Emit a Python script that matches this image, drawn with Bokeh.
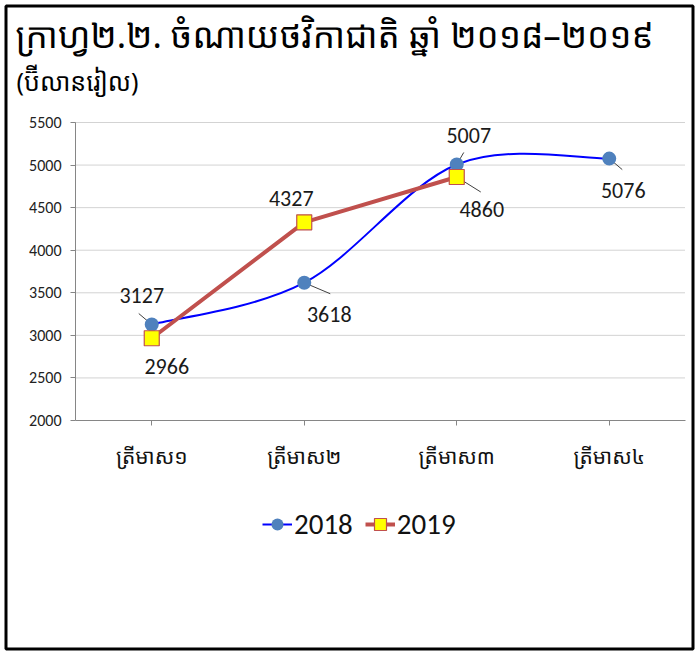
import numpy as np
from bokeh.plotting import figure
from bokeh.models import (Range1d, FixedTicker, Label, Legend, LegendItem,
                          ColumnDataSource, LabelSet, BoxAnnotation)
from bokeh.core.properties import value
from bokeh.embed import file_html
from bokeh.resources import INLINE

# ---------------- data ----------------
categories = ["ត្រីមាស១", "ត្រីមាស២", "ត្រីមាស៣", "ត្រីមាស៤"]
series_2018 = [3127, 3618, 5007, 5076]
series_2019 = [2966, 4327, 4860]
y_ticks = [2000, 2500, 3000, 3500, 4000, 4500, 5000, 5500]
title_text = "ក្រាហ្វ២.២. ចំណាយថវិកាជាតិ ឆ្នាំ ២០១៨–២០១៩"
subtitle_text = "(ប៊ីលានរៀល)"
legend_names = ["2018", "2019"]

# ---------------- style / layout ----------------
W, H = 696, 651
AX_L, AX_R, AX_T, AX_B = 75, 685, 122, 420     # plotting area in canvas px
KH_FONT = "'Noto Sans Khmer', 'Khmer OS', 'Khmer OS System', 'Noto Serif Khmer', 'DejaVu Sans'"
NUM_FONT = "Carlito, 'Open Sans'"

xs = np.arange(1, len(categories) + 1)
x_lo, x_hi = 0.5, len(categories) + 0.5
y_lo, y_hi = y_ticks[0], y_ticks[-1]
ux = (AX_R - AX_L) / (x_hi - x_lo)      # px per data unit
uy = (AX_B - AX_T) / (y_hi - y_lo)
xr = Range1d(x_lo - AX_L / ux, x_hi + (W - AX_R) / ux)
yr = Range1d(y_lo - (H - AX_B) / uy, y_hi + AX_T / uy)

def sy(y_from_top):   # canvas px from top -> screen units from bottom
    return H - y_from_top

p = figure(width=W, height=H, output_backend="svg", toolbar_location=None,
           x_range=xr, y_range=yr, min_border=0,
           min_border_left=0, min_border_right=0, min_border_top=0, min_border_bottom=0)
p.outline_line_color = None
p.background_fill_color = "white"
p.border_fill_color = "white"

# axes (library axes, drawn at fixed locations inside the canvas)
p.xaxis.fixed_location = y_lo
p.xaxis.bounds = (x_lo, x_hi)
p.xaxis.ticker = FixedTicker(ticks=list(xs))
p.xaxis.major_label_overrides = {int(i): c for i, c in zip(xs, categories)}
p.xaxis.major_label_text_font = KH_FONT
p.xaxis.major_label_text_font_size = "21px"
p.xaxis.major_label_text_color = "#111111"
p.xaxis.major_label_standoff = 16
p.xaxis.axis_line_color = "#868686"
p.xaxis.major_tick_line_color = "#868686"
p.xaxis.major_tick_out = 5
p.xaxis.major_tick_in = 0
p.xaxis.minor_tick_line_color = None

p.yaxis.fixed_location = x_lo
p.yaxis.bounds = (y_lo, y_hi)
p.yaxis.ticker = FixedTicker(ticks=y_ticks)
p.yaxis.major_label_text_font = NUM_FONT
p.yaxis.major_label_text_font_size = "16px"
p.yaxis.major_label_text_color = "#222222"
p.yaxis.axis_line_color = "#868686"
p.yaxis.major_tick_line_color = "#868686"
p.yaxis.major_tick_out = 5
p.yaxis.major_tick_in = 0
p.yaxis.minor_tick_line_color = None
p.yaxis.major_label_standoff = 9

# horizontal gridlines at the y ticks, limited to the plotting area
p.xgrid.grid_line_color = None
p.ygrid.grid_line_color = None
grid_y = y_ticks[1:]
p.segment(x0=[x_lo] * len(grid_y), y0=grid_y, x1=[x_hi] * len(grid_y), y1=grid_y,
          line_color="#a6a6a6", line_width=1, line_dash="1 1")

# ---------------- 2018 smooth curve (Catmull-Rom through data) ----------------
y18 = np.array(series_2018, dtype=float)
x18 = xs[:len(y18)].astype(float)
n = len(y18)
px_ = np.concatenate([[x18[0]], x18, [x18[-1]]])
py_ = np.concatenate([[y18[0]], y18, [y18[-1]]])
bx0, by0, bx1, by1, cx0, cy0, cx1, cy1 = [], [], [], [], [], [], [], []
for i in range(n - 1):
    p0x, p0y = px_[i], py_[i]
    p1x, p1y = px_[i + 1], py_[i + 1]
    p2x, p2y = px_[i + 2], py_[i + 2]
    p3x, p3y = px_[i + 3], py_[i + 3]
    bx0.append(p1x); by0.append(p1y); bx1.append(p2x); by1.append(p2y)
    cx0.append(p1x + (p2x - p0x) / 6); cy0.append(p1y + (p2y - p0y) / 6)
    cx1.append(p2x - (p3x - p1x) / 6); cy1.append(p2y - (p3y - p1y) / 6)
r18_line = p.bezier(x0=bx0, y0=by0, x1=bx1, y1=by1, cx0=cx0, cy0=cy0, cx1=cx1, cy1=cy1,
                    line_color="#0000ff", line_width=2)

# 2019 straight line
y19 = np.array(series_2019, dtype=float)
x19 = xs[:len(y19)].astype(float)
r19_line = p.line(x19, y19, line_color="#c0504d", line_width=4)

# leader lines (pixel offsets from the point)
lead18 = [(-13, 11), (26, -11), (7, 12), (13, -11)]
lead19 = [(0, 0), (0, 0), (24, -15)]
segx0, segy0, segx1, segy1 = [], [], [], []
for (xv, yv), (dx, dy) in list(zip(zip(x18, y18), lead18)) + list(zip(zip(x19, y19), lead19)):
    if dx == 0 and dy == 0:
        continue
    segx0.append(xv); segy0.append(yv)
    segx1.append(xv + dx / ux); segy1.append(yv + dy / uy)
p.segment(segx0, segy0, segx1, segy1, line_color="#404040", line_width=1)

r18_pts = p.scatter(x18, y18, marker="circle", size=14, fill_color="#4f81bd",
                    line_color="#4f81bd", line_width=0)
r19_pts = p.scatter(x19, y19, marker="square", size=15, fill_color="#ffff00",
                    line_color="#c0504d", line_width=1.2)

# data labels
off18 = [(-10, 29), (25, -32), (12, 29), (14, -32)]
off19 = [(15, -28), (-13, 24), (25, -33)]
offs = off18 + off19
lab_src = ColumnDataSource(dict(
    x=[xv + o[0] / ux for xv, o in zip(list(x18) + list(x19), offs)],
    y=[yv + o[1] / uy for yv, o in zip(list(y18) + list(y19), offs)],
    t=[str(v) for v in series_2018] + [str(v) for v in series_2019],
))
p.add_layout(LabelSet(x="x", y="y", text="t", source=lab_src,
                      text_align="center", text_baseline="middle",
                      text_font=value(NUM_FONT), text_font_size="22px",
                      text_color="#1a1a1a"))

# legend
legend = Legend(items=[LegendItem(label=legend_names[0], renderers=[r18_line, r18_pts]),
                       LegendItem(label=legend_names[1], renderers=[r19_line, r19_pts])],
                orientation="horizontal", location=(262, sy(542)),
                label_text_font=NUM_FONT, label_text_font_size="29px",
                label_text_color="#111111", glyph_width=30, glyph_height=36,
                label_standoff=2, spacing=12, padding=0, margin=0,
                border_line_color=None, background_fill_alpha=0)
p.add_layout(legend)

# title & subtitle
p.add_layout(Label(x=15, y=sy(57), x_units="screen", y_units="screen", text=title_text,
                   text_font=KH_FONT, text_font_size="35px", text_color="#000000"))
p.add_layout(Label(x=16, y=sy(97), x_units="screen", y_units="screen", text=subtitle_text,
                   text_font=KH_FONT, text_font_size="25px", text_color="#000000"))

# outer black border
p.add_layout(BoxAnnotation(left=5.5, right=692.5, top=sy(5.5), bottom=sy(648.5),
                           left_units="screen", right_units="screen",
                           top_units="screen", bottom_units="screen",
                           fill_alpha=0, line_color="black", line_alpha=1, line_width=3))

open("out.html", "w").write(file_html(p, INLINE))
